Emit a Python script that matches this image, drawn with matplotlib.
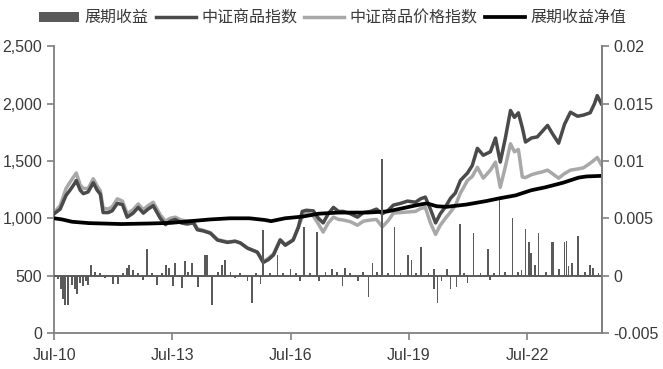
import numpy as np
import pandas as pd
import matplotlib
matplotlib.use("Agg")
import matplotlib.pyplot as plt
import matplotlib.dates as mdates
from matplotlib.ticker import FuncFormatter, FixedLocator
from matplotlib.patches import Patch
from matplotlib.lines import Line2D

plt.rcParams["font.family"] = ["Liberation Sans", "Noto Sans CJK SC"]
plt.rcParams["axes.unicode_minus"] = False

# index series (decimal years)
idx_years = [2010.50, 2010.65, 2010.80, 2010.91, 2011.01, 2011.06, 2011.16, 2011.24,
             2011.36, 2011.49, 2011.59, 2011.67, 2011.74, 2011.87, 2011.97, 2012.10,
             2012.23, 2012.35, 2012.50, 2012.63, 2012.76, 2012.88, 2013.01, 2013.19,
             2013.32, 2013.44, 2013.57, 2013.72, 2013.87, 2014.03, 2014.13, 2014.28,
             2014.46, 2014.64, 2014.89, 2015.09, 2015.22, 2015.40, 2015.65, 2015.80,
             2015.93, 2016.06, 2016.23, 2016.36, 2016.56, 2016.69, 2016.79, 2016.89,
             2017.07, 2017.20, 2017.32, 2017.45, 2017.58, 2017.71, 2017.83, 2018.01,
             2018.19, 2018.34, 2018.52, 2018.67, 2018.82, 2018.97, 2019.10, 2019.28,
             2019.46, 2019.66, 2019.79, 2019.91, 2020.04, 2020.17, 2020.29, 2020.42,
             2020.55, 2020.67, 2020.80, 2020.98, 2021.10, 2021.23, 2021.38, 2021.56,
             2021.69, 2021.81, 2021.94, 2022.07, 2022.17, 2022.27, 2022.37, 2022.45,
             2022.60, 2022.75, 2022.88, 2023.01, 2023.13, 2023.29, 2023.44, 2023.59,
             2023.77, 2023.92, 2024.09, 2024.20, 2024.27, 2024.37]
cci = [1040, 1080, 1200, 1250, 1300, 1330, 1245, 1215,
       1230, 1310, 1245, 1210, 1050, 1050, 1065, 1130,
       1120, 1010, 1045, 1095, 1045, 1080, 1110, 1000,
       945, 975, 990, 960, 950, 960, 900, 890,
       870, 810, 790, 800, 785, 740, 705, 615,
       640, 680, 810, 765, 810, 920, 1060, 1070,
       1065, 1000, 960, 1040, 1095, 1060, 1060, 1040,
       1010, 1050, 1060, 1080, 1040, 1070, 1115, 1130,
       1150, 1140, 1170, 1185, 1080, 960, 1040, 1100,
       1175, 1220, 1330, 1395, 1460, 1610, 1550, 1580,
       1700, 1490, 1700, 1940, 1880, 1920, 1790, 1665,
       1700, 1710, 1760, 1810, 1740, 1655, 1820, 1925,
       1890, 1900, 1920, 2000, 2070, 2000]
cci_price = [1050, 1110, 1260, 1320, 1370, 1395, 1290, 1260,
             1260, 1345, 1280, 1240, 1090, 1080, 1100, 1170,
             1150, 1040, 1075, 1125, 1075, 1110, 1140, 1030,
             975, 1000, 1010, 985, 975, 975, 910, 895,
             875, 815, 795, 800, 785, 740, 705, 625,
             650, 690, 815, 770, 815, 925, 1010, 1050,
             1020, 950, 880, 960, 1010, 990, 985, 970,
             940, 975, 985, 990, 925, 980, 1045, 1050,
             1055, 1060, 1085, 1095, 960, 860, 940, 1000,
             1055, 1110, 1220, 1330, 1365, 1445, 1350, 1420,
             1490, 1270, 1450, 1650, 1580, 1600, 1360, 1355,
             1380, 1395, 1405, 1420, 1390, 1350, 1390, 1420,
             1430, 1440, 1480, 1510, 1530, 1470]

# roll-yield NAV (scaled to 1000)
nav_years = [2010.50, 2010.70, 2010.95, 2011.38, 2012.20, 2012.95, 2013.45, 2013.95,
             2014.45, 2014.95, 2015.45, 2015.85, 2016.00, 2016.35, 2016.80, 2017.20,
             2017.70, 2018.45, 2018.95, 2019.30, 2019.70, 2019.95, 2020.20, 2020.45,
             2020.95, 2021.45, 2021.80, 2022.20, 2022.60, 2022.95, 2023.40, 2023.80,
             2024.00, 2024.37]
nav = [1000, 990, 970, 958, 950, 955, 960, 975,
       990, 1000, 1000, 985, 975, 1000, 1015, 1040,
       1050, 1050, 1060, 1085, 1115, 1130, 1105, 1100,
       1120, 1150, 1175, 1200, 1245, 1270, 1310, 1355,
       1365, 1370]

# daily roll yield, notable bars
roll_years = [2010.60, 2010.68, 2010.73, 2010.78, 2010.86, 2010.96, 2011.03, 2011.08,
              2011.16, 2011.24, 2011.31, 2011.36, 2011.44, 2011.54, 2011.67, 2011.79,
              2012.00, 2012.12, 2012.25, 2012.35, 2012.40, 2012.50, 2012.63, 2012.76,
              2012.86, 2012.99, 2013.11, 2013.24, 2013.34, 2013.42, 2013.52, 2013.57,
              2013.75, 2013.82, 2013.90, 2014.00, 2014.15, 2014.33, 2014.38, 2014.51,
              2014.66, 2014.76, 2014.84, 2014.97, 2015.09, 2015.22, 2015.40, 2015.52,
              2015.62, 2015.73, 2015.80, 2015.98, 2016.16, 2016.31, 2016.49, 2016.64,
              2016.74, 2016.84, 2016.99, 2017.17, 2017.22, 2017.38, 2017.55, 2017.68,
              2017.81, 2017.88, 2018.01, 2018.21, 2018.34, 2018.47, 2018.57, 2018.69,
              2018.82, 2018.97, 2019.13, 2019.28, 2019.48, 2019.56, 2019.68, 2019.81,
              2019.99, 2020.12, 2020.14, 2020.22, 2020.32, 2020.47, 2020.55, 2020.70,
              2020.80, 2020.90, 2020.98, 2021.13, 2021.31, 2021.49, 2021.54, 2021.66,
              2021.79, 2021.94, 2022.12, 2022.27, 2022.35, 2022.45, 2022.53, 2022.60,
              2022.70, 2022.78, 2022.96, 2023.13, 2023.16, 2023.29, 2023.44, 2023.49,
              2023.54, 2023.64, 2023.79, 2023.95, 2024.09, 2024.17, 2024.30]
roll = [-0.0003, -0.0012, -0.0020, -0.0026, -0.0026, -0.0008, -0.0012, -0.0016,
        -0.0006, -0.0009, -0.0005, -0.0008, 0.0009, 0.0003, 0.0002, -0.0002,
        -0.0007, -0.0007, 0.0002, 0.0007, 0.0009, 0.0005, 0.0002, -0.0004,
        0.0023, 0.0002, -0.0008, 0.0002, 0.0009, 0.0007, -0.0009, 0.0011,
        -0.0011, 0.0013, 0.0003, 0.0011, -0.0010, 0.0018, 0.0018, -0.0026,
        0.0003, 0.0009, 0.0014, 0.0003, -0.0002, 0.0002, -0.0005, -0.0024,
        0.0002, -0.0007, 0.0040, 0.0002, 0.0018, 0.0002, 0.0006, 0.0002,
        -0.0005, 0.0042, 0.0002, 0.0038, -0.0005, 0.0003, 0.0006, 0.0003,
        -0.0009, 0.0007, 0.0002, -0.0005, 0.0003, -0.0019, 0.0011, 0.0003,
        0.0102, 0.0002, 0.0042, 0.0002, 0.0018, 0.0014, 0.0002, 0.0025,
        0.0002, 0.0006, -0.0012, -0.0024, -0.0005, 0.0006, -0.0012, -0.0010,
        0.0045, 0.0002, -0.0006, 0.0037, 0.0002, 0.0023, -0.0004, 0.0002,
        0.0066, 0.0003, 0.0050, 0.0003, 0.0005, 0.0041, 0.0029, 0.0020,
        0.0009, 0.0037, 0.0003, 0.0029, 0.0029, 0.0006, 0.0029, 0.0030,
        0.0008, 0.0011, 0.0035, 0.0003, 0.0009, 0.0007, 0.0002]

legend_labels = ["展期收益", "中证商品指数", "中证商品价格指数", "展期收益净值"]


def to_dates(years):
    years = np.asarray(years, dtype=float)
    return pd.Timestamp("2010-01-01") + pd.to_timedelta((years - 2010) * 365.25, unit="D")


BAR_C = "#5a5a5a"
DARK_C = "#4a4a4a"
LIGHT_C = "#a8a8a8"
AXIS_C = "#808080"
TEXT_C = "#3a3a3a"

fig = plt.figure(figsize=(6.63, 3.69), dpi=100)
ax = fig.add_axes([0.0815, 0.0976, 0.826, 0.777])
ax2 = ax.twinx()

ax.plot(to_dates(idx_years), cci, color=DARK_C, lw=2.5, zorder=3)
ax.plot(to_dates(idx_years), cci_price, color=LIGHT_C, lw=2.5, zorder=2)
ax.plot(to_dates(nav_years), nav, color="black", lw=2.7, zorder=4)

ax2.axhline(0, color=BAR_C, lw=1.4)
ax2.bar(to_dates(roll_years), roll, width=17, color=BAR_C, lw=0)

ax.set_ylim(0, 2500)
ax2.set_ylim(-0.005, 0.02)
ax.set_xlim(pd.Timestamp("2010-07-01"), pd.Timestamp("2024-05-20"))
ax.yaxis.set_major_locator(FixedLocator([0, 500, 1000, 1500, 2000, 2500]))
ax.yaxis.set_major_formatter(FuncFormatter(lambda v, p: f"{v:,.0f}"))
ax2.yaxis.set_major_locator(FixedLocator([-0.005, 0, 0.005, 0.01, 0.015, 0.02]))
ax2.yaxis.set_major_formatter(FuncFormatter(lambda v, p: f"{v:g}"))

xticks = [pd.Timestamp(f"{y}-07-01") for y in (2010, 2013, 2016, 2019, 2022)]
ax.set_xticks(xticks)
ax.xaxis.set_major_formatter(mdates.DateFormatter("%b-%y"))

for a in (ax, ax2):
    a.spines["top"].set_visible(False)
    for s in ("left", "right", "bottom"):
        a.spines[s].set_color(AXIS_C)
        a.spines[s].set_linewidth(1.3)
    a.tick_params(colors=AXIS_C, labelcolor=TEXT_C, labelsize=11.5, length=5, width=1.2)
ax.tick_params(axis="x", pad=6)
ax2.spines["left"].set_visible(False)
ax2.spines["bottom"].set_visible(False)

handles = [Patch(color=BAR_C, lw=0),
           Line2D([], [], color=DARK_C, lw=2.5),
           Line2D([], [], color=LIGHT_C, lw=2.5),
           Line2D([], [], color="black", lw=2.7)]
fig.legend(handles, legend_labels, loc="center", bbox_to_anchor=(0.502, 0.952), ncol=4,
           frameon=False, fontsize=11.5, handlelength=2.5, handleheight=0.6,
           handletextpad=0.35, columnspacing=0.45, labelcolor=TEXT_C)

fig.savefig("out.png", dpi=100)
